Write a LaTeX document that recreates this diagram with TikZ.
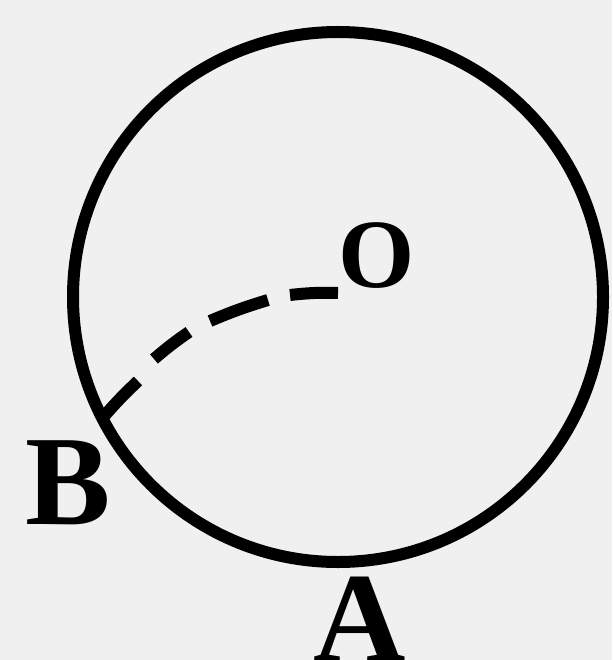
\documentclass[tikz,border=0pt]{standalone}
\usepackage{fontspec}
\setmainfont{Liberation Serif}
\begin{document}
\begin{tikzpicture}[x=1pt,y=-1pt,
  ink/.style={line width=12pt,black},
  dashpart/.style={line width=12pt,black},
  lbl/.style={font=\fontsize{128}{128}\selectfont\bfseries,inner sep=0pt,text=black}]
\fill[gray!12] (0,0) rectangle (612,660);
\useasboundingbox (0,0) rectangle (612,660);
\coordinate (c) at (338,297);
\draw[ink] (c) circle[radius=265];
\node[lbl,font=\fontsize{98}{98}\selectfont\bfseries] (O) at (377,256) {O};
\node[lbl] (B) at (68,483) {B};
\node[lbl] (A) at (360,619) {A};
% dashed arc from B to O, drawn as its four dashes
\coordinate (d1a) at (100,421); \coordinate (d1b) at (138,381);
\coordinate (d2a) at (154,359); \coordinate (d2b) at (189,332);
\coordinate (d3a) at (210,321); \coordinate (d3b) at (268,300);
\coordinate (d4a) at (290,295); \coordinate (d4b) at (338,293);
\draw[dashpart] (d1a) to[bend left=3] (d1b);
\draw[dashpart] (d2a) to[bend left=3] (d2b);
\draw[dashpart] (d3a) to[bend left=3] (d3b);
\draw[dashpart] (d4a) to[bend left=4] (d4b);
\end{tikzpicture}
\end{document}
